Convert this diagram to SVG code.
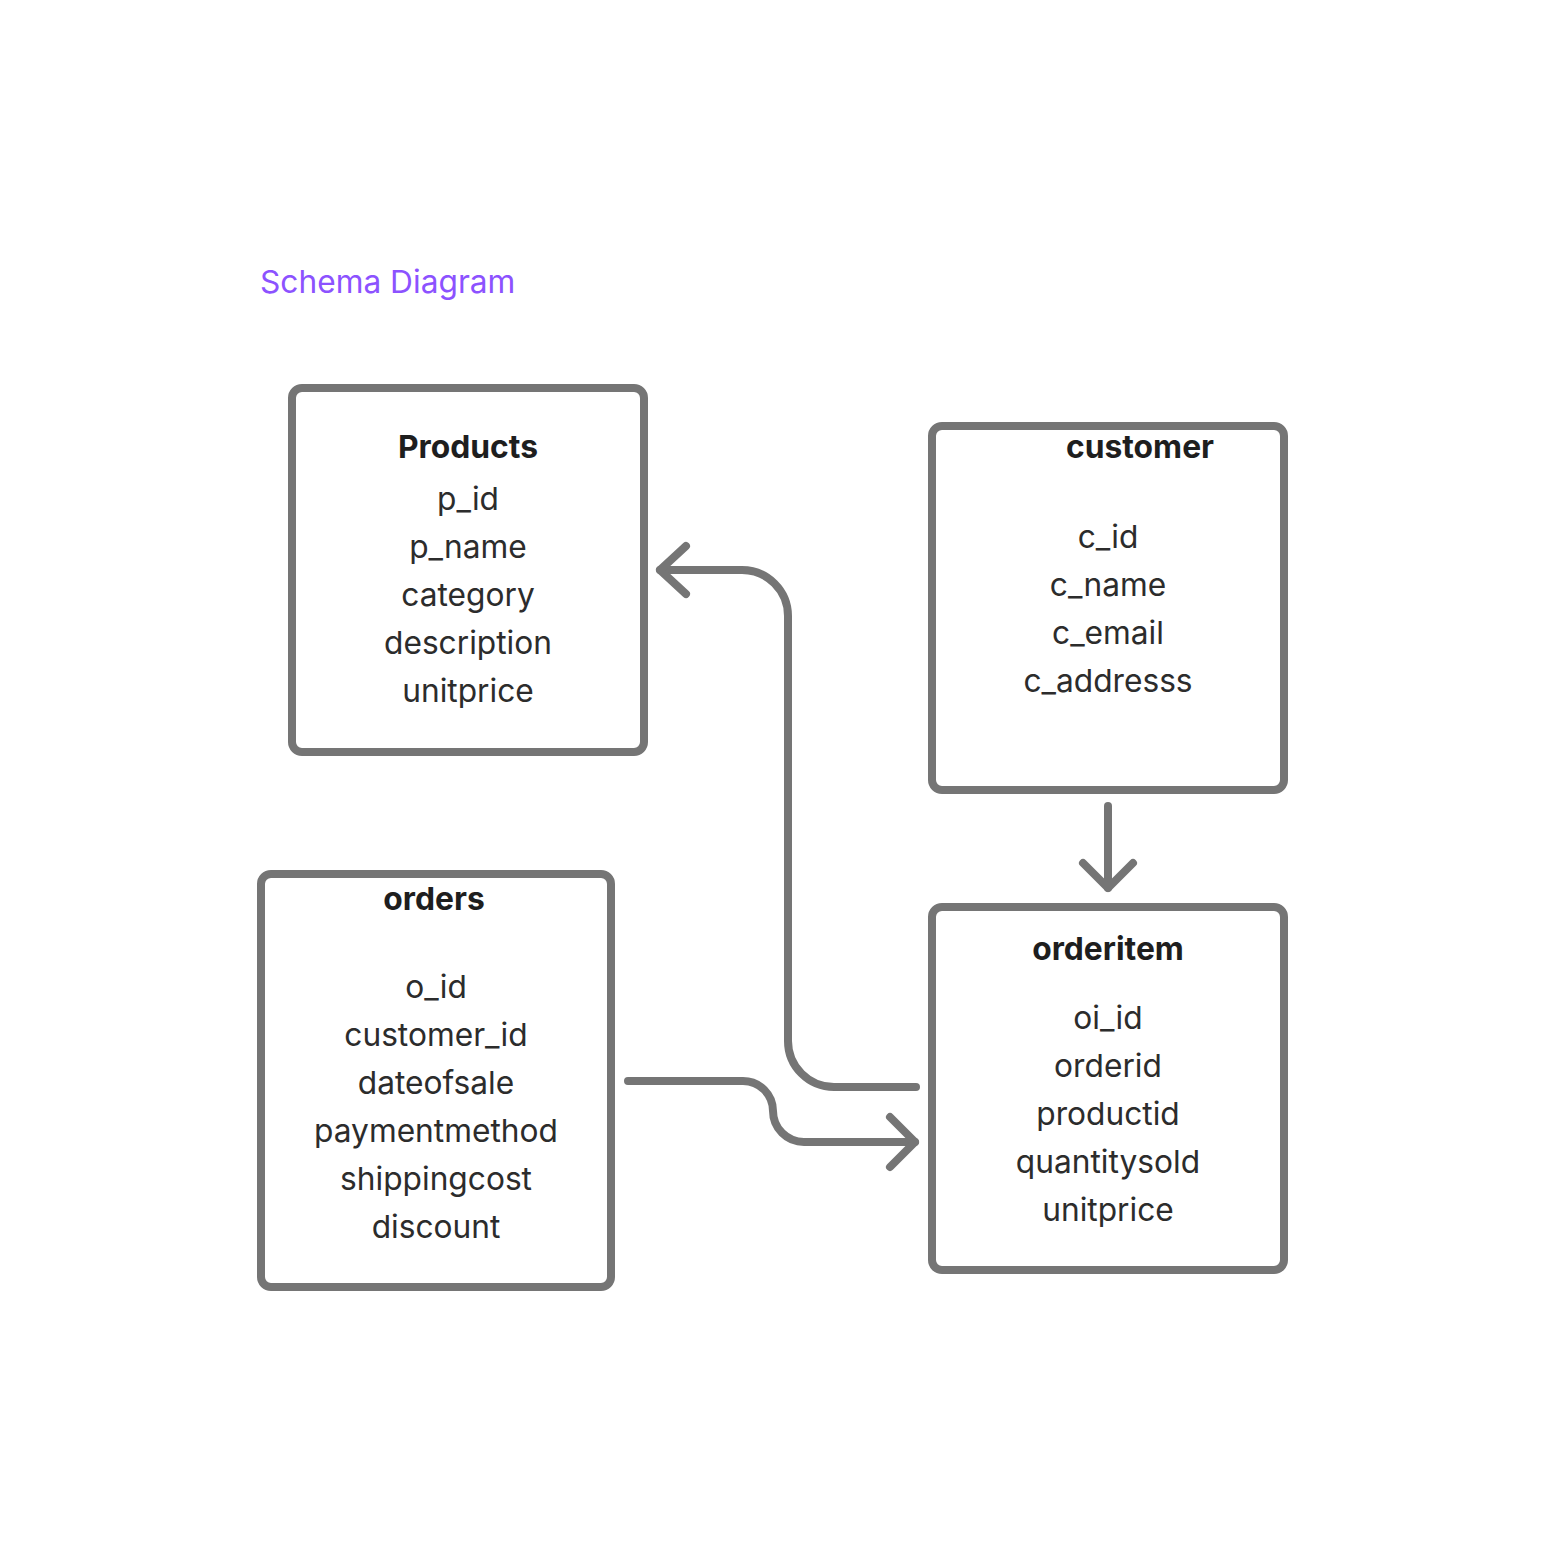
<svg xmlns="http://www.w3.org/2000/svg" width="1544" height="1548" viewBox="0 0 1544 1548">
  <style>
    .box { fill: #ffffff; stroke: #757575; stroke-width: 8; }
    .conn { fill: none; stroke: #757575; stroke-width: 8; stroke-linecap: round; stroke-linejoin: round; }
    .title { font-family: Inter, "Liberation Sans", sans-serif; font-size: 31.7px; fill: #8c52ff; }
    .head { font-family: Inter, "Liberation Sans", sans-serif; font-size: 31.8px; font-weight: 700; fill: #1e1e1e; text-anchor: middle; }
    .field { font-family: Inter, "Liberation Sans", sans-serif; font-size: 31.7px; fill: #2c2c2c; text-anchor: middle; }
  </style>
  <rect width="1544" height="1548" fill="#ffffff"/>

  <text class="title" x="260" y="293">Schema Diagram</text>

  <g id="connectors">
    <!-- orderitem -> Products -->
    <path class="conn" d="M916 1087 H834 A46 46 0 0 1 788 1041 V616 A46 46 0 0 0 742 570 H660"/>
    <path class="conn" d="M686 546 L660 570 L686 594"/>
    <!-- customer -> orderitem -->
    <path class="conn" d="M1108 806 V888"/>
    <path class="conn" d="M1083 863 L1108 888 L1133 863"/>
    <!-- orders -> orderitem -->
    <path class="conn" d="M628 1081 H743 A30 30 0 0 1 773 1111 A31 31 0 0 0 804 1142 H915"/>
    <path class="conn" d="M890 1117 L915 1142 L890 1167"/>
  </g>

  <g id="products">
    <rect class="box" x="292" y="388" width="352" height="364" rx="10"/>
    <text class="head" x="468" y="458">Products</text>
    <text class="field" x="468" y="510">p_id</text>
    <text class="field" x="468" y="558">p_name</text>
    <text class="field" x="468" y="606">category</text>
    <text class="field" x="468" y="654">description</text>
    <text class="field" x="468" y="702">unitprice</text>
  </g>

  <g id="customer">
    <rect class="box" x="932" y="426" width="352" height="364" rx="10"/>
    <text class="head" x="1140" y="458">customer</text>
    <text class="field" x="1108" y="548">c_id</text>
    <text class="field" x="1108" y="596">c_name</text>
    <text class="field" x="1108" y="644">c_email</text>
    <text class="field" x="1108" y="692">c_addresss</text>
  </g>

  <g id="orders">
    <rect class="box" x="261" y="874" width="350" height="413" rx="10"/>
    <text class="head" x="434" y="910">orders</text>
    <text class="field" x="436" y="998">o_id</text>
    <text class="field" x="436" y="1046">customer_id</text>
    <text class="field" x="436" y="1094">dateofsale</text>
    <text class="field" x="436" y="1142">paymentmethod</text>
    <text class="field" x="436" y="1190">shippingcost</text>
    <text class="field" x="436" y="1238">discount</text>
  </g>

  <g id="orderitem">
    <rect class="box" x="932" y="907" width="352" height="363" rx="10"/>
    <text class="head" x="1108" y="960">orderitem</text>
    <text class="field" x="1108" y="1029">oi_id</text>
    <text class="field" x="1108" y="1077">orderid</text>
    <text class="field" x="1108" y="1125">productid</text>
    <text class="field" x="1108" y="1173">quantitysold</text>
    <text class="field" x="1108" y="1221">unitprice</text>
  </g>
</svg>
